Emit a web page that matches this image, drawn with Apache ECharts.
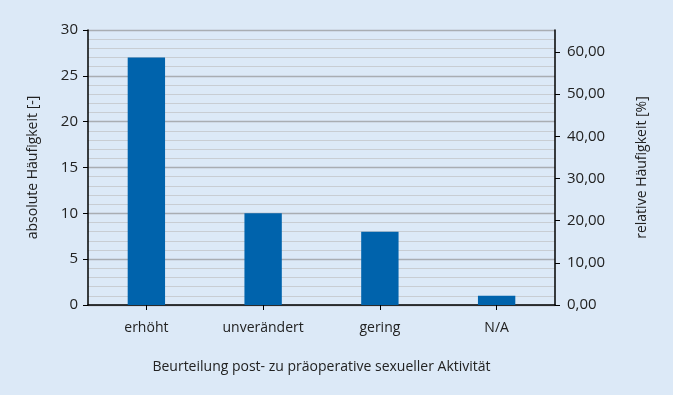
<!DOCTYPE html>
<html>
<head>
<meta charset="utf-8">
<script src="https://cdn.jsdelivr.net/npm/echarts@6/dist/echarts.min.js"></script>
<style>
  html, body { margin: 0; padding: 0; background: #dce9f7; }
  #main { width: 673px; height: 395px; }
</style>
</head>
<body>
<div id="main"></div>
<script>
// Daten
const categories = ['erhöht', 'unverändert', 'gering', 'N/A'];
const counts = [27, 10, 8, 1];
const total = 46; // Summe -> rechte Achse in %
const leftTicks = [0, 5, 10, 15, 20, 25, 30];
const rightTicks = [0, 10, 20, 30, 40, 50, 60];

const chart = echarts.init(document.getElementById('main'));
const font = 'Open Sans, Noto Sans, sans-serif';

const option = {
  backgroundColor: '#dce9f7',
  animation: false,
  grid: { left: 88, right: 118, top: 30, bottom: 90 },
  xAxis: {
    type: 'category',
    data: categories,
    name: 'Beurteilung post- zu präoperative sexueller Aktivität',
    nameLocation: 'middle',
    nameGap: 55,
    nameTextStyle: { color: '#222', fontSize: 14, fontFamily: font },
    axisLine: { lineStyle: { color: '#000', width: 1.5 } },
    axisTick: { show: true, alignWithLabel: true, length: 5, lineStyle: { color: '#000' } },
    axisLabel: { color: '#222', fontSize: 14, fontFamily: font, margin: 16 }
  },
  yAxis: [
    {
      type: 'value',
      min: 0,
      max: leftTicks[leftTicks.length - 1],
      interval: 5,
      name: 'absolute Häufigkeit [-]',
      nameLocation: 'middle',
      nameGap: 48,
      nameTextStyle: { color: '#222', fontSize: 14, fontFamily: font },
      axisLine: { show: true, lineStyle: { color: '#000', width: 1.5 } },
      axisTick: { show: true, length: 5, lineStyle: { color: '#000' } },
      axisLabel: { color: '#222', fontSize: 15, fontFamily: font, margin: 10 },
      splitLine: { show: true, lineStyle: { color: '#a9adb2', width: 1.3 } },
      minorTick: { show: false, splitNumber: 5 },
      minorSplitLine: { show: true, lineStyle: { color: '#c8cdd3', width: 1 } }
    },
    {
      type: 'value',
      min: 0,
      max: 30 / total * 100,
      interval: 10,
      name: 'relative Häufigkeit [%]',
      nameLocation: 'middle',
      nameGap: 80,
      nameTextStyle: { color: '#222', fontSize: 14, fontFamily: font },
      axisLine: { show: true, lineStyle: { color: '#000', width: 1.5 } },
      axisTick: { show: true, length: 5, customValues: rightTicks, lineStyle: { color: '#000' } },
      axisLabel: {
        color: '#222', fontSize: 15, fontFamily: font, margin: 12,
        customValues: rightTicks,
        formatter: v => v.toFixed(2).replace('.', ',')
      },
      splitLine: { show: false }
    }
  ],
  series: [
    {
      type: 'bar',
      data: counts,
      barWidth: '32%',
      itemStyle: { color: '#0063ac' }
    }
  ]
};

chart.setOption(option);
</script>
</body>
</html>
